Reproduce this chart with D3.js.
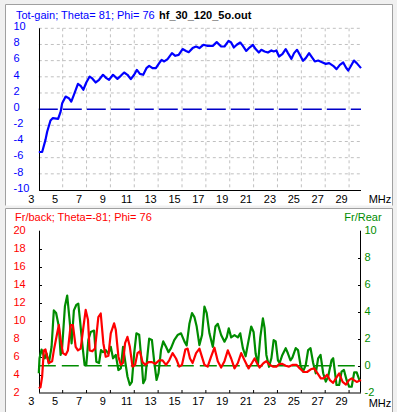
<!DOCTYPE html>
<html>
<head>
<meta charset="utf-8">
<script src="https://cdn.jsdelivr.net/npm/d3@7"></script>
<style>
  html, body { margin: 0; padding: 0; background: #f0f0f0; }
  svg { display: block; }
  text { font-family: "Liberation Sans", Arial, sans-serif; font-size: 11px; }
</style>
</head>
<body>
<svg id="svg"></svg>
<script>
// ---- data ----
const freqTicks = [3, 5, 7, 9, 11, 13, 15, 17, 19, 21, 23, 25, 27, 29];
const gainTicks = [-10, -8, -6, -4, -2, 0, 2, 4, 6, 8, 10];
const fbTicks = [2, 4, 6, 8, 10, 12, 14, 16, 18, 20];
const frTicks = [-2, 0, 2, 4, 6, 8, 10];

const gainFreq = [3.0, 3.28, 3.56, 3.70, 3.98, 4.18, 4.62, 4.83, 4.96, 5.25, 5.52, 5.72, 5.94, 6.28, 6.51, 6.73,
  6.98, 7.26, 7.48, 7.77, 8.05, 8.38, 8.66, 8.89, 9.22, 9.59, 9.87, 10.15, 10.43, 10.71, 10.99, 11.22,
  11.47, 11.75, 12.02, 12.25, 12.53, 12.81, 13.09, 13.29, 13.51, 13.79, 14.16, 14.44, 14.72, 15.05,
  15.34, 15.56, 15.89, 16.18, 16.46, 16.79, 17.15, 17.58, 17.91, 18.28, 18.56, 18.90, 19.12, 19.34,
  19.59, 19.88, 20.10, 20.38, 20.66, 20.94, 21.17, 21.44, 21.65, 21.92, 22.20, 22.49, 22.68, 22.91,
  23.13, 23.41, 23.69, 23.88, 24.17, 24.39, 24.64, 24.87, 25.14, 25.37, 25.65, 25.94, 26.13, 26.41,
  26.78, 27.05, 27.33, 27.67, 27.95, 28.23, 28.51, 28.74, 28.93, 29.13, 29.41, 29.64, 30.0];
const gainDb = [-5.3, -5.3, -3.8, -2.8, -1.4, -1.1, -1.2, -0.3, 0.74, 1.56, 1.36, 0.94, 1.77, 3.13, 2.88, 2.4,
  3.3, 4.03, 3.8, 3.3, 3.63, 4.25, 3.84, 3.63, 4.25, 3.75, 4.12, 4.53, 4.25, 3.71, 4.25, 4.86,
  4.37, 4.25, 5.07, 5.36, 5.07, 5.07, 5.69, 6.1, 5.9, 6.19, 6.93, 6.6, 6.72, 7.43,
  7.2, 7.05, 7.55, 7.75, 7.55, 7.96, 7.83, 7.83, 8.29, 7.75, 7.75, 8.45, 8.24, 7.62,
  7.96, 8.24, 7.83, 7.2, 7.62, 7.96, 7.43, 7.0, 7.34, 7.13, 7.0, 7.26, 7.13, 7.26,
  6.51, 6.8, 7.43, 6.93, 6.22, 6.93, 7.34, 6.72, 5.98, 6.31, 6.93, 6.31, 5.9, 6.01,
  5.77, 5.6, 5.69, 5.36, 4.95, 5.48, 5.77, 5.15, 4.78, 5.27, 6.01, 5.69, 5.07];

const fbFreq = [3.0, 3.14, 3.28, 3.42, 3.56, 3.70, 3.84, 4.12, 4.26, 4.54, 4.68, 4.83, 5.02, 5.25, 5.44, 5.67,
  5.86, 6.09, 6.28, 6.51, 6.73, 6.93, 7.12, 7.26, 7.48, 7.71, 7.99, 8.19, 8.41, 8.61, 8.83, 9.03,
  9.31, 9.45, 9.67, 9.87, 10.06, 10.23, 10.43, 10.63, 10.85, 11.07, 11.27, 11.47, 11.69, 11.92,
  12.19, 12.48, 12.76, 13.09, 13.37, 13.66, 13.93, 14.21, 14.50, 14.77, 15.00, 15.28, 15.47, 15.67,
  15.89, 16.18, 16.46, 16.88, 17.15, 17.44, 17.72, 18.00, 18.28, 18.56, 18.84, 19.12, 19.40, 19.68,
  19.96, 20.24, 20.58, 20.86, 21.08, 21.28, 21.50, 21.84, 22.07, 22.34, 22.62, 22.91, 23.18, 23.41,
  23.69, 23.97, 24.30, 24.59, 24.87, 25.20, 25.48, 25.79, 26.07, 26.36, 26.63, 26.89, 27.16, 27.39,
  27.67, 27.90, 28.17, 28.46, 28.74, 28.99, 29.22, 29.41, 29.64, 30.0];
const fbRatio = [2.5, 2.6, 3.8, 6.7, 6.8, 6.0, 5.3, 5.5, 6.7, 8.6, 9.5, 7.9, 6.4, 6.2, 6.7, 9.5,
  9.5, 7.1, 6.7, 6.9, 9.2, 11.2, 10.1, 6.7, 6.6, 6.9, 10.4, 10.8, 7.5, 6.0, 6.1, 8.6,
  9.7, 9.0, 6.0, 5.1, 5.3, 7.5, 8.2, 7.1, 4.9, 5.1, 6.4, 6.6, 5.4, 5.1,
  5.4, 5.4, 5.2, 5.6, 5.6, 5.1, 5.6, 6.4, 5.8, 4.9, 5.1, 6.8, 6.9, 5.8,
  5.3, 6.4, 6.9, 5.1, 4.9, 6.0, 7.0, 5.5, 4.8, 5.5, 6.7, 5.8, 4.7, 5.3,
  6.4, 5.6, 4.7, 5.3, 5.8, 5.3, 4.8, 5.3, 5.5, 5.1, 4.9, 4.9, 5.2, 5.2,
  5.0, 4.9, 5.1, 5.1, 4.7, 4.3, 4.3, 4.6, 4.7, 4.15, 3.6, 3.6, 4.0, 3.4,
  3.1, 3.6, 4.15, 3.2, 2.9, 3.4, 3.6, 3.4, 3.2, 3.4];

const frFreq = [3.0, 3.06, 3.23, 3.50, 3.65, 3.84, 4.07, 4.26, 4.45, 4.68, 4.83, 4.96, 5.19, 5.38, 5.58, 5.75,
  5.94, 6.14, 6.31, 6.45, 6.64, 6.84, 6.98, 7.15, 7.35, 7.63, 7.82, 8.05, 8.21, 8.38, 8.61, 8.83,
  9.03, 9.22, 9.45, 9.67, 9.87, 10.06, 10.43, 10.63, 10.80, 10.99, 11.18, 11.41, 11.64, 11.75,
  11.92, 12.11, 12.25, 12.48, 12.67, 12.87, 13.03, 13.24, 13.43, 13.66, 13.87, 14.08, 14.35, 14.63,
  14.92, 15.20, 15.39, 15.62, 15.84, 16.04, 16.23, 16.46, 16.68, 16.88, 17.07, 17.30, 17.58, 17.80,
  18.00, 18.28, 18.56, 18.75, 18.92, 19.12, 19.40, 19.68, 19.88, 20.10, 20.33, 20.52, 20.80, 21.00,
  21.17, 21.36, 21.56, 21.78, 21.92, 22.07, 22.29, 22.49, 22.68, 22.85, 23.04, 23.18, 23.41, 23.69,
  23.88, 24.09, 24.25, 24.53, 24.72, 24.93, 25.14, 25.37, 25.57, 25.77, 25.99, 26.21, 26.41, 26.61,
  26.83, 27.05, 27.25, 27.53, 27.67, 27.81, 27.95, 28.17, 28.37, 28.57, 28.79, 29.01, 29.22, 29.43,
  29.64, 29.86, 30.0];
const frRatio = [-0.56, 0.55, 1.2, 0.55, 0.9, 0.17, 1.4, 4.1, 3.9, 2.9, 0.8, 1.4, 4.4, 5.2, 3.4, 1.66,
  4.1, 4.5, 4.6, 3.4, 1.66, 0.05, 0.05, 1.9, 2.5, 2.6, 0.3, 0.2, 1.16, 1.0, 1.16, 0.9,
  1.4, 0.55, 0.8, -0.32, -0.2, 1.4, -0.8, -1.43, -1.2, 0.9, 2.4, 2.3, 0.05, -1.3,
  -1.0, 0.8, 2.0, 1.9, 0.3, -1.06, -0.56, 1.16, 1.8, 1.4, 1.0, 1.3, 1.9, 2.27,
  2.4, 1.8, 1.5, 3.1, 3.9, 3.6, 2.9, 1.53, 2.27, 4.37, 3.9, 2.4, 1.4, 2.9,
  3.1, 2.27, 1.78, 2.1, 2.77, 2.1, 2.27, 2.1, 2.4, 1.3, 0.7, 1.6, 2.9, 2.5,
  0.9, 0.05, 2.1, 3.5, 2.8, 0.8, -0.08, 0.55, 1.9, 1.8, 0.4, 0.2, 0.8, 1.3,
  0.9, 0.4, 0.6, 1.3, 1.16, 0.05, -0.44, 0.05, 1.16, 1.3, 0.2, -0.56, 0.55, 0.8,
  -0.56, -1.18, -0.8, 0.4, 0.55, -0.44, -1.43, -1.43, -0.44, -0.32, -1.06, -1.56, -1.56, -0.5,
  -0.5, -1.06, -1.06];

// ---- layout ----
const W = 397, H = 412;
const blue = "#0000ff", red = "#ff0000", green = "#008c00";

const svg = d3.select("#svg").attr("width", W).attr("height", H);
svg.append("rect").attr("width", W).attr("height", H).attr("fill", "#f0f0f0");

function panel(y0, y1) {
    svg.append("rect").attr("x", 5).attr("y", y0).attr("width", 387).attr("height", y1 - y0).attr("fill", "white");
    svg.append("path").attr("d", `M5.5,${y1}V${y0 + 0.5}H392.5V${y1}`)
        .attr("fill", "none").attr("stroke", "#a0a0a0");
}
panel(4, 205.5);
panel(208, 416);

const x = d3.scaleLinear().domain([3, 30]).range([38.8, 361]);

// ---- top: total gain ----
const yG = d3.scaleLinear().domain([-10, 10]).range([190, 28.3]);
const gTop = svg.append("g");

gTop.selectAll(".vgrid").data(freqTicks.filter(d => d > 3)).join("line")
    .attr("x1", d => x(d)).attr("x2", d => x(d)).attr("y1", yG(10)).attr("y2", yG(-10))
    .attr("stroke", "#c0c0c0").attr("stroke-dasharray", "3,3");
gTop.selectAll(".hgrid").data(gainTicks.filter(d => d > -10 && d != 0)).join("line")
    .attr("x1", x(3)).attr("x2", x(30)).attr("y1", d => yG(d)).attr("y2", d => yG(d))
    .attr("stroke", "#c0c0c0").attr("stroke-dasharray", "3,3");

gTop.append("line").attr("x1", x(3)).attr("x2", x(30)).attr("y1", yG(0)).attr("y2", yG(0))
    .attr("stroke", "#0000c8").attr("stroke-width", 1.5).attr("stroke-dasharray", "19,5");

gTop.append("line").attr("x1", 39.5).attr("x2", 39.5).attr("y1", yG(10)).attr("y2", yG(-10)).attr("stroke", "black");
gTop.append("line").attr("x1", 39).attr("x2", x(30)).attr("y1", yG(-10) + 0.5).attr("y2", yG(-10) + 0.5).attr("stroke", "black");

gTop.selectAll(".ylab").data(gainTicks).join("text")
    .attr("x", 13.5).attr("y", d => yG(d) + 1.8).attr("fill", blue).text(d => d);
gTop.selectAll(".xlab").data(freqTicks).join("text")
    .attr("x", d => x(d) - 7.5).attr("y", 203).attr("text-anchor", "middle").text(d => d);
gTop.append("text").attr("x", 380).attr("y", 203).attr("text-anchor", "middle").text("MHz");

gTop.append("text").attr("x", 16).attr("y", 19).attr("fill", blue).text("Tot-gain; Theta= 81; Phi= 76");
gTop.append("text").attr("x", 159).attr("y", 19).attr("font-weight", "bold").text("hf_30_120_5o.out");

gTop.append("path")
    .datum(d3.zip(gainFreq, gainDb))
    .attr("fill", "none").attr("stroke", blue).attr("stroke-width", 2.2).attr("stroke-linejoin", "round")
    .attr("d", d3.line().x(d => x(d[0])).y(d => yG(d[1])));

// ---- bottom: front/back and front/rear ----
const yF = d3.scaleLinear().domain([2, 20]).range([392.7, 230.7]);
const yR = d3.scaleLinear().domain([-2, 10]).range([392.7, 230.7]);
const gBot = svg.append("g");

gBot.append("line").attr("x1", x(3)).attr("x2", x(30)).attr("y1", yR(0)).attr("y2", yR(0))
    .attr("stroke", green).attr("stroke-width", 1.5).attr("stroke-dasharray", "17,6");

gBot.append("line").attr("x1", 39.5).attr("x2", 39.5).attr("y1", yF(20)).attr("y2", yF(2)).attr("stroke", "black");
gBot.append("line").attr("x1", 360.5).attr("x2", 360.5).attr("y1", yR(10)).attr("y2", yR(-2)).attr("stroke", "black");
gBot.append("line").attr("x1", 39).attr("x2", 361).attr("y1", 393).attr("y2", 393).attr("stroke", "black");

gBot.selectAll(".lt").data(fbTicks.slice(1, -1)).join("line")
    .attr("x1", 39.5).attr("x2", 42).attr("y1", d => Math.round(yF(d)) + 0.5).attr("y2", d => Math.round(yF(d)) + 0.5).attr("stroke", "black");
gBot.selectAll(".rt").data(frTicks.slice(1, -1)).join("line")
    .attr("x1", 358).attr("x2", 360.5).attr("y1", d => Math.round(yR(d)) + 0.5).attr("y2", d => Math.round(yR(d)) + 0.5).attr("stroke", "black");
gBot.selectAll(".bt").data(freqTicks.filter(d => d > 3)).join("line")
    .attr("x1", d => x(d)).attr("x2", d => x(d)).attr("y1", 393).attr("y2", 390).attr("stroke", "black");

gBot.selectAll(".ylab").data(fbTicks).join("text")
    .attr("x", 13.5).attr("y", d => yF(d) + 3.5).attr("fill", red).text(d => d);
gBot.selectAll(".rlab").data(frTicks).join("text")
    .attr("x", 364.5).attr("y", d => yR(d) + 3).attr("fill", green).text(d => d);
gBot.selectAll(".xlab").data(freqTicks).join("text")
    .attr("x", d => x(d) - 7.5).attr("y", 405).attr("text-anchor", "middle").text(d => d);
gBot.append("text").attr("x", 380).attr("y", 406.5).attr("text-anchor", "middle").text("MHz");

gBot.append("text").attr("x", 15).attr("y", 221).attr("fill", red).text("Fr/back; Theta=-81; Phi= 76");
gBot.append("text").attr("x", 363).attr("y", 221).attr("fill", green).attr("text-anchor", "middle").text("Fr/Rear");

gBot.append("path")
    .datum(d3.zip(frFreq, frRatio))
    .attr("fill", "none").attr("stroke", green).attr("stroke-width", 2.2).attr("stroke-linejoin", "round")
    .attr("d", d3.line().x(d => x(d[0])).y(d => yR(d[1])));
gBot.append("path")
    .datum(d3.zip(fbFreq, fbRatio))
    .attr("fill", "none").attr("stroke", red).attr("stroke-width", 2.2).attr("stroke-linejoin", "round")
    .attr("d", d3.line().x(d => x(d[0])).y(d => yF(d[1])));
</script>
</body>
</html>
